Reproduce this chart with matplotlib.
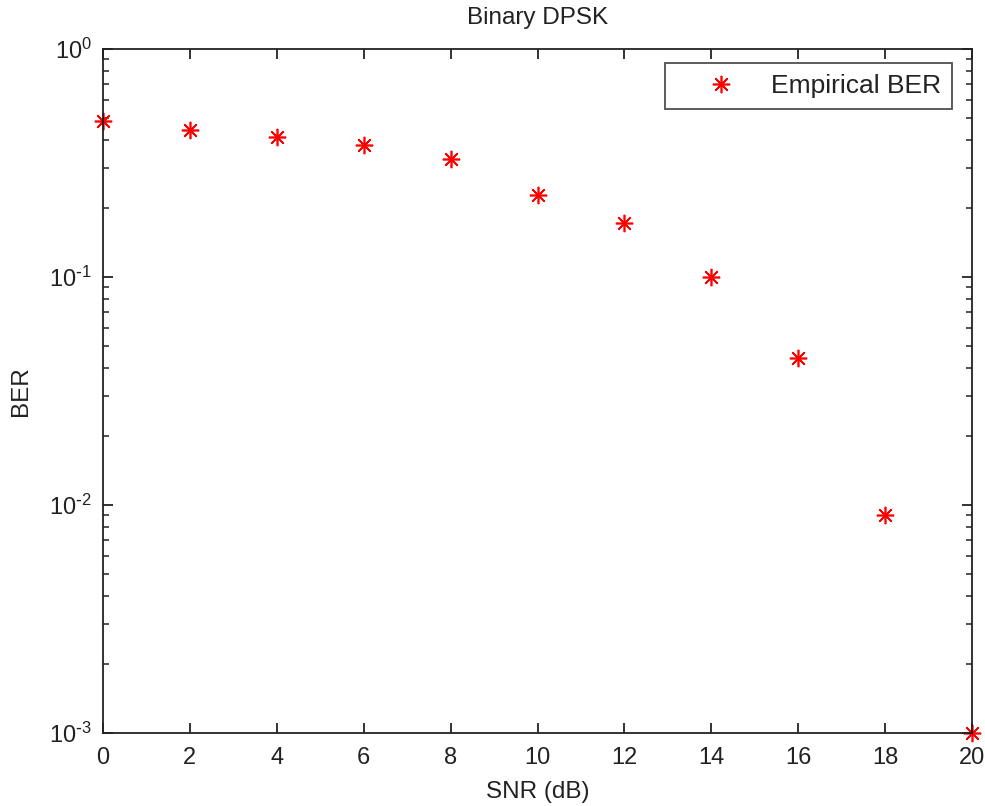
import numpy as np
import matplotlib.pyplot as plt
from matplotlib.ticker import LogLocator, NullFormatter, FuncFormatter

plt.rcParams['font.family'] = ['Liberation Sans', 'DejaVu Sans']

# Empirical BER
snr_db = [0, 2, 4, 6, 8, 10, 12, 14, 16, 18, 20]
ber = [0.483, 0.441, 0.411, 0.379, 0.329, 0.229, 0.172, 0.100, 0.0441, 0.00904, 0.001]
xticks = [0, 2, 4, 6, 8, 10, 12, 14, 16, 18, 20]

ink = '#222222'


def decade_label(v, pos):
    e = int(round(np.log10(v)))
    if e < 0:
        return r'$\mathdefault{10^{\text{-}%d}}$' % (-e)
    return r'$\mathdefault{10^{%d}}$' % e


fig = plt.figure(figsize=(9.85, 8.06), dpi=100)
ax = fig.add_axes([0.1046, 0.0906, 0.8822, 0.8486])

ax.semilogy(snr_db, ber, linestyle='none', marker=(8, 2, 0), color='red',
            markersize=12.5, markeredgewidth=1.2, clip_on=False, label='Empirical BER')

ax.set_xlim(0, 20)
ax.set_ylim(1e-3, 1)
ax.set_xticks(xticks)
ax.yaxis.set_major_locator(LogLocator(base=10, numticks=10))
ax.yaxis.set_major_formatter(FuncFormatter(decade_label))
ax.yaxis.set_minor_locator(LogLocator(base=10, subs=np.arange(2, 10), numticks=10))
ax.yaxis.set_minor_formatter(NullFormatter())

ax.tick_params(which='both', direction='in', top=True, right=True, labelsize=17, colors=ink)
ax.tick_params(which='major', length=7.5, width=1.3)
ax.tick_params(which='minor', length=4.3, width=1.1)
ax.tick_params(axis='x', pad=10)
ax.tick_params(axis='y', pad=8)
for s in ax.spines.values():
    s.set_linewidth(1.3)
    s.set_color(ink)

ax.set_xlabel('SNR (dB)', fontsize=17.5, color=ink, labelpad=9)
ax.set_ylabel('BER', fontsize=17.5, color=ink, labelpad=12)
ax.set_title('Binary DPSK', fontsize=17.5, color=ink, pad=18)

leg = ax.legend(loc='upper right', fontsize=19, fancybox=False, edgecolor=ink,
                borderpad=0.42, handlelength=3.4, handletextpad=0.2,
                borderaxespad=0, bbox_to_anchor=(952 / 985, 1 - 63 / 806),
                bbox_transform=fig.transFigure)
leg.get_frame().set_linewidth(1.3)
for t in leg.get_texts():
    t.set_color(ink)

fig.savefig('out.png', dpi=100)
